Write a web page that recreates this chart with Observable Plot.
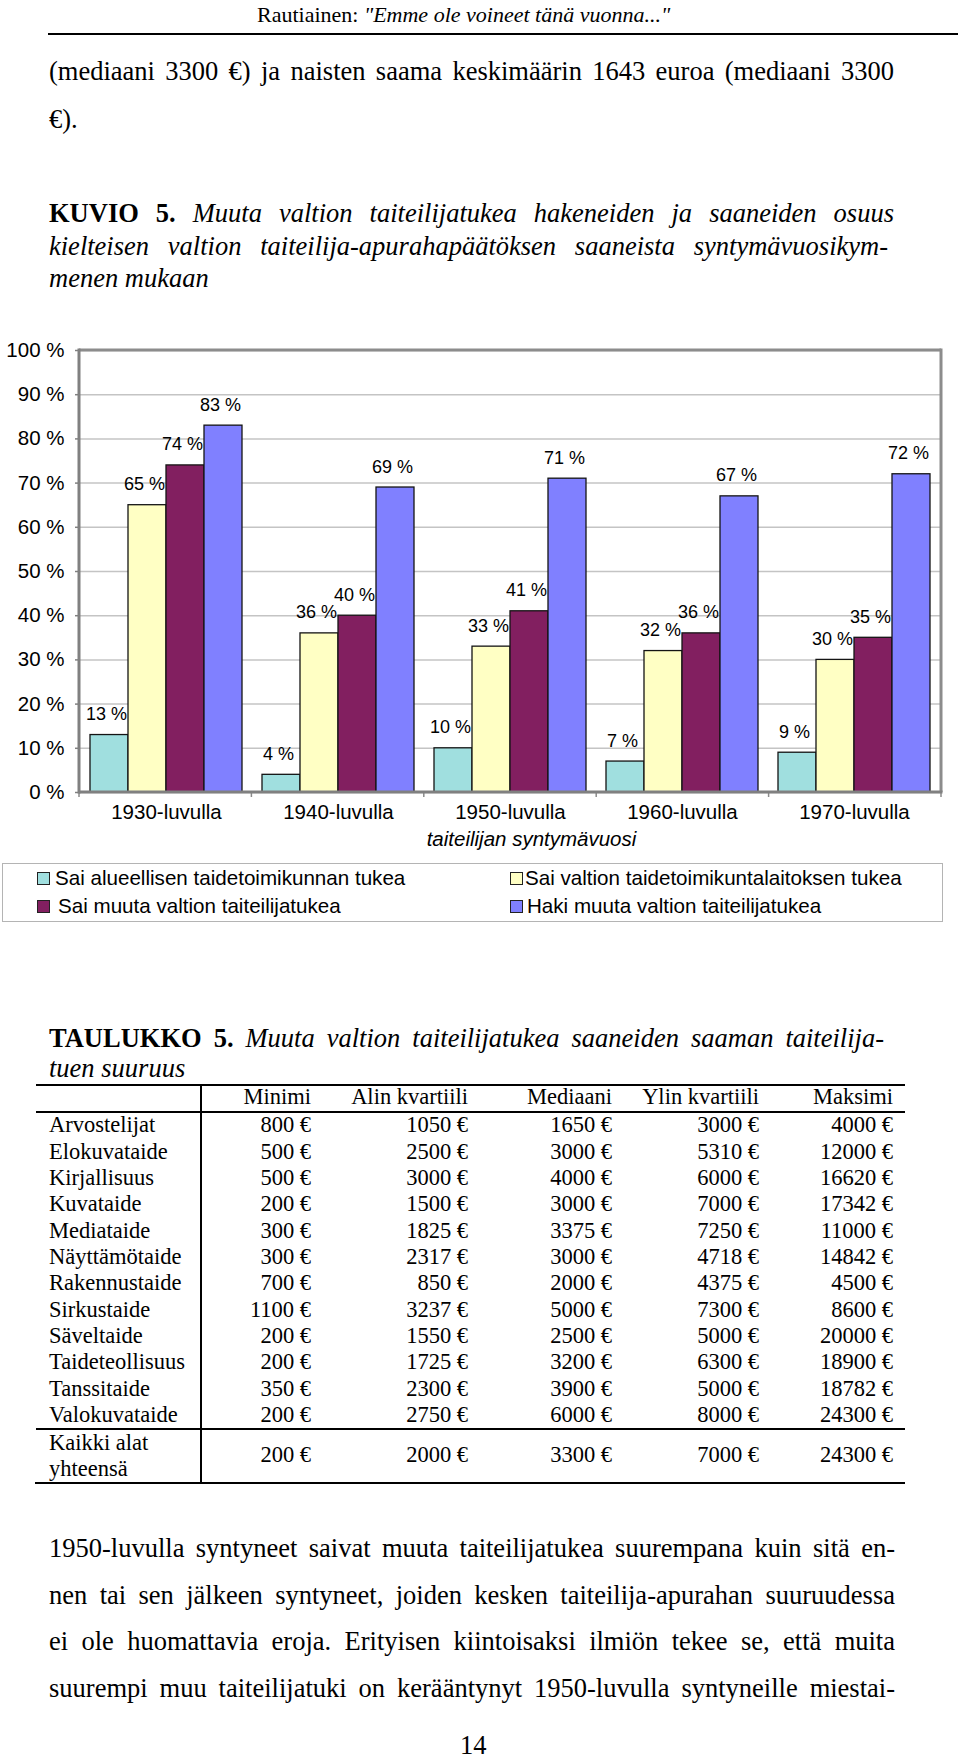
<!DOCTYPE html>
<html><head><meta charset="utf-8">
<script src="https://cdn.jsdelivr.net/npm/d3@7"></script>
<script src="https://cdn.jsdelivr.net/npm/@observablehq/plot@0.6"></script>
<style>
html,body{margin:0;padding:0;background:#fff;}
#page{position:relative;width:960px;height:1761px;overflow:hidden;font-family:"Liberation Serif","Times New Roman",serif;color:#000;background:#fff;}
.t{position:absolute;white-space:pre;line-height:1;}
.j{text-align:justify;text-align-last:justify;white-space:normal;}
.ln{position:absolute;}
#chart{position:absolute;left:0;top:330px;}
.lg{position:absolute;box-sizing:border-box;}
</style></head><body><div id="page"></div>
<script>
// ---------- data ----------
const headerText = 'Rautiainen: <i>"Emme ole voineet tänä vuonna..."</i>';
const introLines = ["(mediaani 3300 €) ja naisten saama keskimäärin 1643 euroa (mediaani 3300", "€)."];
const figLabel = "KUVIO 5.";
const figCaption = ["Muuta valtion taiteilijatukea hakeneiden ja saaneiden osuus",
  "kielteisen valtion taiteilija-apurahapäätöksen saaneista syntymävuosikym-",
  "menen mukaan"];

const decades = ["1930-luvulla", "1940-luvulla", "1950-luvulla", "1960-luvulla", "1970-luvulla"];
const seriesNames = ["Sai alueellisen taidetoimikunnan tukea", "Sai valtion taidetoimikuntalaitoksen tukea",
  "Sai muuta valtion taiteilijatukea", "Haki muuta valtion taiteilijatukea"];
const alueellinen = [13, 4, 10, 7, 9];
const laitos = [65, 36, 33, 32, 30];
const muuta = [74, 40, 41, 36, 35];
const haki = [83, 69, 71, 67, 72];
const yTicks = [0, 10, 20, 30, 40, 50, 60, 70, 80, 90, 100];
const xTitle = "taiteilijan syntymävuosi";
const colors = ["#a0dfdf", "#ffffc4", "#821f60", "#8080ff"];

const tabLabel = "TAULUKKO 5.";
const tabCaption = ["Muuta valtion taiteilijatukea saaneiden saaman taiteilija-", "tuen suuruus"];
const colHeaders = ["Minimi", "Alin kvartiili", "Mediaani", "Ylin kvartiili", "Maksimi"];
const fields = ["Arvostelijat", "Elokuvataide", "Kirjallisuus", "Kuvataide", "Mediataide", "Näyttämötaide",
  "Rakennustaide", "Sirkustaide", "Säveltaide", "Taideteollisuus", "Tanssitaide", "Valokuvataide"];
const minimi = [800, 500, 500, 200, 300, 300, 700, 1100, 200, 200, 350, 200];
const alinKvartiili = [1050, 2500, 3000, 1500, 1825, 2317, 850, 3237, 1550, 1725, 2300, 2750];
const mediaani = [1650, 3000, 4000, 3000, 3375, 3000, 2000, 5000, 2500, 3200, 3900, 6000];
const ylinKvartiili = [3000, 5310, 6000, 7000, 7250, 4718, 4375, 7300, 5000, 6300, 5000, 8000];
const maksimi = [4000, 12000, 16620, 17342, 11000, 14842, 4500, 8600, 20000, 18900, 18782, 24300];
const totalLabel = ["Kaikki alat", "yhteensä"];
const totalRow = [200, 2000, 3300, 7000, 24300];

const paragraph = [
  "1950-luvulla syntyneet saivat muuta taiteilijatukea suurempana kuin sitä en-",
  "nen tai sen jälkeen syntyneet, joiden kesken taiteilija-apurahan suuruudessa",
  "ei ole huomattavia eroja. Erityisen kiintoisaksi ilmiön tekee se, että muita",
  "suurempi muu taiteilijatuki on kerääntynyt 1950-luvulla syntyneille miestai-"];
const pageNumber = "14";

// ---------- helpers ----------
const page = document.getElementById("page");
function txt(content, o) {
  const el = document.createElement("div");
  el.className = "t";
  const fs = o.size;
  const k = o.sans ? 0.8465 : 0.8375;
  el.style.fontSize = fs + "px";
  el.style.top = (o.base - k * fs) + "px";
  if (o.sans) el.style.fontFamily = '"Liberation Sans", Arial, sans-serif';
  if (o.right != null) { el.style.left = (o.right - 400) + "px"; el.style.width = "400px"; el.style.textAlign = "right"; }
  else el.style.left = o.x + "px";
  if (o.to != null) { el.style.width = (o.to - o.x) + "px"; el.classList.add("j"); }
  if (o.italic) el.style.fontStyle = "italic";
  if (o.bold) el.style.fontWeight = "bold";
  if (o.html) el.innerHTML = content; else el.textContent = content;
  page.appendChild(el);
  return el;
}
function hline(x1, x2, y, w, c) {
  const el = document.createElement("div"); el.className = "ln";
  Object.assign(el.style, {left: x1 + "px", top: (y - w / 2) + "px", width: (x2 - x1) + "px", height: w + "px", background: c || "#000"});
  page.appendChild(el);
}
function vline(x, y1, y2, w, c) {
  const el = document.createElement("div"); el.className = "ln";
  Object.assign(el.style, {left: (x - w / 2) + "px", top: y1 + "px", width: w + "px", height: (y2 - y1) + "px", background: c || "#000"});
  page.appendChild(el);
}

// ---------- header & intro ----------
txt(headerText, {x: 257, base: 22, size: 22, html: true});
hline(48, 958, 33.5, 2);
txt(introLines[0], {x: 49, to: 894, base: 80, size: 26.5});
txt(introLines[1], {x: 49, base: 128, size: 26.5});

txt('<b>' + figLabel + '</b> <i>' + figCaption[0] + '</i>', {x: 49, to: 894, base: 222, size: 26.5, html: true});
txt(figCaption[1], {x: 49, to: 888, base: 255, size: 26.5, italic: true});
txt(figCaption[2], {x: 49, base: 287, size: 26.5, italic: true});

// ---------- chart ----------
const data = [];
decades.forEach((d, i) => {
  [alueellinen, laitos, muuta, haki].forEach((arr, j) => data.push({decade: d, series: seriesNames[j], value: arr[i]}));
});

const W = 960, H = 525, mL = 79, mR = 19, mT = 20, mB = 63;
const chart = Plot.plot({
  width: W, height: H,
  marginLeft: mL, marginRight: mR, marginTop: mT, marginBottom: mB,
  style: {fontFamily: '"Liberation Sans", Arial, sans-serif', fontSize: "20.5px", color: "#000", background: "transparent", overflow: "visible"},
  fx: {domain: decades, padding: 0, label: null},
  x: {domain: seriesNames, paddingInner: 0, paddingOuter: 0.24, axis: null},
  y: {domain: [0, 100], label: null},
  color: {domain: seriesNames, range: colors},
  marks: [
    Plot.gridY(yTicks, {stroke: "#c4c4c4", strokeOpacity: 1, strokeWidth: 1.5}),
    Plot.barY(data, {fx: "decade", x: "series", y: "value", fill: "series", stroke: "#141414", strokeWidth: 1.3}),
    Plot.text(data, {fx: "decade", x: "series", y: "value", text: d => d.value + " %", lineAnchor: "bottom", dy: -15, dx: -3, fontSize: 18, fill: "#000"}),
    Plot.axisY(yTicks, {tickFormat: d => d + " %", tickSize: 5, tickPadding: 11, stroke: "#808080", strokeWidth: 1.5, fontSize: 20.5, label: null}),
    Plot.axisFx({anchor: "bottom", tickSize: 0, tickPadding: 12, fontSize: 20.5, label: null}),
    Plot.text([xTitle], {fx: () => decades[2], frameAnchor: "bottom", lineAnchor: "bottom", dy: 53, dx: 21, fontStyle: "italic", fontSize: 20.5, fill: "#000"})
  ]
});
chart.id = "chart";
// frame lines drawn from Plot's scales
{
  const yS = chart.scale("y");
  const yTop = yS.apply(100), yBot = yS.apply(0);
  const xL = mL, xR = W - mR;
  const g = d3.select(chart).append("g").attr("fill", "none");
  const step = (xR - xL) / decades.length;
  decades.concat([null]).forEach((d, i) => {
    g.append("line").attr("x1", xL + i * step).attr("x2", xL + i * step).attr("y1", yBot).attr("y2", yBot + 5)
      .attr("stroke", "#8a8a8a").attr("stroke-width", 1.5);
  });
  g.append("line").attr("x1", xL).attr("x2", xR).attr("y1", yTop).attr("y2", yTop).attr("stroke", "#8c8c8c").attr("stroke-width", 3);
  g.append("line").attr("x1", xR).attr("x2", xR).attr("y1", yTop - 1.5).attr("y2", yBot).attr("stroke", "#8c8c8c").attr("stroke-width", 3);
  g.append("line").attr("x1", xL).attr("x2", xR + 1.5).attr("y1", yBot).attr("y2", yBot).attr("stroke", "#808080").attr("stroke-width", 3);
  g.append("line").attr("x1", xL).attr("x2", xL).attr("y1", yTop - 1.5).attr("y2", yBot + 1.5).attr("stroke", "#808080").attr("stroke-width", 3);
}
page.appendChild(chart);

// ---------- legend ----------
{
  const box = document.createElement("div"); box.className = "lg";
  Object.assign(box.style, {left: "2px", top: "863px", width: "941px", height: "59px", border: "1.5px solid #b4b4b4"});
  page.appendChild(box);
  const pos = [[37, 872, 55, 885], [510, 872, 525, 885], [37, 900, 58, 913], [510, 900, 527, 913]];
  seriesNames.forEach((s, i) => {
    const [sx, sy, tx, tb] = pos[i];
    const sq = document.createElement("div"); sq.className = "lg";
    Object.assign(sq.style, {left: sx + "px", top: sy + "px", width: "13px", height: "13px", background: colors[i], border: "1px solid #222"});
    page.appendChild(sq);
    txt(s, {x: tx, base: tb, size: 20.6, sans: true});
  });
}

// ---------- table ----------
txt('<b>' + tabLabel + '</b> <i>' + tabCaption[0] + '</i>', {x: 49, to: 884, base: 1047, size: 26.5, html: true});
txt(tabCaption[1], {x: 49, base: 1077, size: 26.5, italic: true});
const colRight = [311, 468, 612, 759, 893];
const cols = [minimi, alinKvartiili, mediaani, ylinKvartiili, maksimi];
const TF = 22.5;
hline(36, 905, 1085, 1.5);
colHeaders.forEach((h, i) => txt(h, {right: colRight[i], base: 1105, size: TF}));
hline(36, 905, 1112, 1.5);
fields.forEach((f, r) => {
  const b = 1133 + r * 26.36;
  txt(f, {x: 49, base: b, size: TF});
  cols.forEach((c, i) => txt(c[r] + " €", {right: colRight[i], base: b, size: TF}));
});
hline(36, 905, 1429, 1.5);
txt(totalLabel[0], {x: 49, base: 1451, size: TF});
txt(totalLabel[1], {x: 49, base: 1477, size: TF});
totalRow.forEach((v, i) => txt(v + " €", {right: colRight[i], base: 1463, size: TF}));
hline(35, 905, 1483, 1.5);
vline(201, 1085, 1483, 1.5);

// ---------- paragraph ----------
paragraph.forEach((l, i) => txt(l, {x: 49, to: 895, base: 1557 + i * 46.7, size: 26.5}));
txt(pageNumber, {x: 460, base: 1754, size: 26.5});
</script></body></html>
